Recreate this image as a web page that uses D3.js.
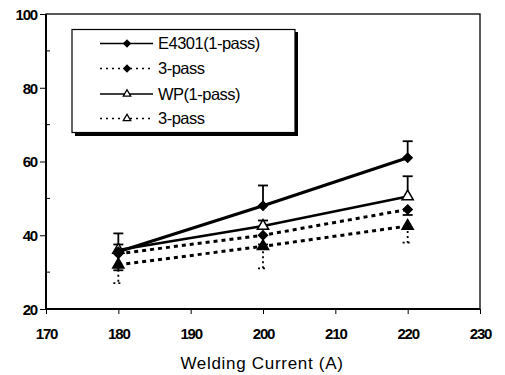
<!DOCTYPE html>
<html><head><meta charset="utf-8">
<script src="https://cdn.jsdelivr.net/npm/d3@7"></script>
<style>body{margin:0;background:#fff}svg{display:block}text{font-family:"Liberation Sans",Arial,sans-serif;fill:#000}</style>
</head><body><svg id="c" width="505" height="375"></svg>
<script>
const currents = [180, 200, 220];
const e4301One = [35.5, 48, 61];
const e4301OneErr = [5, 5.5, 4.5];
const e4301Three = [35, 40, 47];
const e4301ThreeErr = [4.5, 2.5, 1.5];
const wpOne = [36, 42.5, 50.5];
const wpOneErr = [1.5, 1.5, 5.5];
const wpThree = [32, 37, 42.5];
const wpThreeErr = [5, 6, 4.5];
const xTicks = [170, 180, 190, 200, 210, 220, 230];
const yTicks = [20, 40, 60, 80, 100];
const yMinor = [30, 50, 70, 90];
const legendLabels = ["E4301(1-pass)", "3-pass", "WP(1-pass)", "3-pass"];

const svg = d3.select("#c");
const x = d3.scaleLinear().domain([170, 230]).range([46, 480]);
const y = d3.scaleLinear().domain([20, 100]).range([309, 14]);

// frame
svg.append("rect").attr("x", 46).attr("y", 14).attr("width", 434).attr("height", 295)
  .attr("fill", "none").attr("stroke", "#000").attr("stroke-width", 1.3);
svg.append("line").attr("x1", 46).attr("x2", 46).attr("y1", 14).attr("y2", 309).attr("stroke", "#000").attr("stroke-width", 2);
svg.append("line").attr("x1", 46).attr("x2", 480).attr("y1", 309).attr("y2", 309).attr("stroke", "#000").attr("stroke-width", 2);

// y axis
const ya = svg.append("g").attr("transform", "translate(46,0)")
  .call(d3.axisLeft(y).tickValues(yTicks).tickSize(6).tickPadding(3).tickFormat(d3.format("d")));
ya.select(".domain").remove();
ya.selectAll("text").attr("font-size", 15).attr("letter-spacing", -1.2).attr("font-weight", "bold").attr("dy", "0.35em");
svg.append("g").selectAll("line").data(yMinor).join("line")
  .attr("x1", 46).attr("x2", 50).attr("y1", d => y(d)).attr("y2", d => y(d)).attr("stroke", "#000");

// x axis
const xa = svg.append("g").attr("transform", "translate(0,309)")
  .call(d3.axisBottom(x).tickValues(xTicks).tickSize(5).tickPadding(14).tickFormat(d3.format("d")));
xa.select(".domain").remove();
xa.selectAll("text").attr("font-size", 15).attr("letter-spacing", -1.2).attr("font-weight", "bold");

svg.append("text").attr("x", 262).attr("y", 369).attr("text-anchor", "middle")
  .attr("font-size", 17).attr("letter-spacing", 0.7).text("Welding Current (A)");

const line = d3.line().x((d, i) => x(currents[i])).y(d => y(d));

function errBars(vals, errs, dir, dash, w) {
  const g = svg.append("g");
  vals.forEach((v, i) => {
    const cx = x(currents[i]);
    const end = v + dir * errs[i];
    g.append("line").attr("x1", cx).attr("x2", cx).attr("y1", y(v)).attr("y2", y(end))
      .attr("stroke", "#000").attr("stroke-width", w).attr("stroke-dasharray", dash);
    g.append("line").attr("x1", cx - 5).attr("x2", cx + 5).attr("y1", y(end)).attr("y2", y(end))
      .attr("stroke", "#000").attr("stroke-width", w).attr("stroke-dasharray", dash);
  });
}

// series lines
svg.append("path").datum(wpThree).attr("d", line).attr("fill", "none").attr("stroke", "#000")
  .attr("stroke-width", 3).attr("stroke-dasharray", "4,4");
svg.append("path").datum(e4301Three).attr("d", line).attr("fill", "none").attr("stroke", "#000")
  .attr("stroke-width", 3).attr("stroke-dasharray", "4,4");
svg.append("path").datum(wpOne).attr("d", line).attr("fill", "none").attr("stroke", "#000").attr("stroke-width", 2.5);
svg.append("path").datum(e4301One).attr("d", line).attr("fill", "none").attr("stroke", "#000").attr("stroke-width", 3.2);

errBars(e4301One, e4301OneErr, 1, null, 1.8);
errBars(wpOne, wpOneErr, 1, null, 1.8);
errBars(e4301Three, e4301ThreeErr, -1, null, 1.8);
errBars(wpThree, wpThreeErr, -1, "2,3", 1.8);

const diamond = d3.symbol().type(d3.symbolSquare).size(40);
const tri = d3.symbol().type(d3.symbolTriangle).size(55);

function markers(vals, sym, fill, rot) {
  svg.append("g").selectAll("path").data(vals).join("path")
    .attr("d", sym).attr("transform", (d, i) => `translate(${x(currents[i])},${y(d)}) rotate(${rot})`)
    .attr("fill", fill).attr("stroke", "#000").attr("stroke-width", 1.5);
}
markers(e4301Three, diamond, "#000", 45);
markers(wpThree, tri, "#000", 0);
markers(wpOne, tri, "#fff", 0);
markers(e4301One, diamond, "#000", 45);

// legend
const lg = svg.append("g");
lg.append("rect").attr("x", 75).attr("y", 32).attr("width", 223).attr("height", 104).attr("fill", "#000");
lg.append("rect").attr("x", 72).attr("y", 29.5).attr("width", 223).attr("height", 103)
  .attr("fill", "#fff").attr("stroke", "#000").attr("stroke-width", 1.2);
const rowsY = [43.5, 68.5, 94, 118.5];
const legendSyms = [
  {sym: d3.symbol().type(d3.symbolSquare).size(22), fill: "#000", dash: null, rot: 45},
  {sym: d3.symbol().type(d3.symbolSquare).size(22), fill: "#000", dash: "2,4", rot: 45},
  {sym: d3.symbol().type(d3.symbolTriangle).size(24), fill: "#fff", dash: null, rot: 0},
  {sym: d3.symbol().type(d3.symbolTriangle).size(24), fill: "#fff", dash: "2,4", rot: 0}
];
legendLabels.forEach((lab, i) => {
  const yy = rowsY[i];
  lg.append("line").attr("x1", 100).attr("x2", 153).attr("y1", yy).attr("y2", yy)
    .attr("stroke", "#000").attr("stroke-width", 1.3).attr("stroke-dasharray", legendSyms[i].dash);
  lg.append("path").attr("d", legendSyms[i].sym).attr("transform", `translate(127,${yy}) rotate(${legendSyms[i].rot})`)
    .attr("fill", legendSyms[i].fill).attr("stroke", "#000").attr("stroke-width", 1.3);
  lg.append("text").attr("x", 158).attr("y", yy).attr("dy", "0.36em").attr("font-size", 16.5)
    .attr("letter-spacing", -0.5).text(lab);
});
</script></body></html>
